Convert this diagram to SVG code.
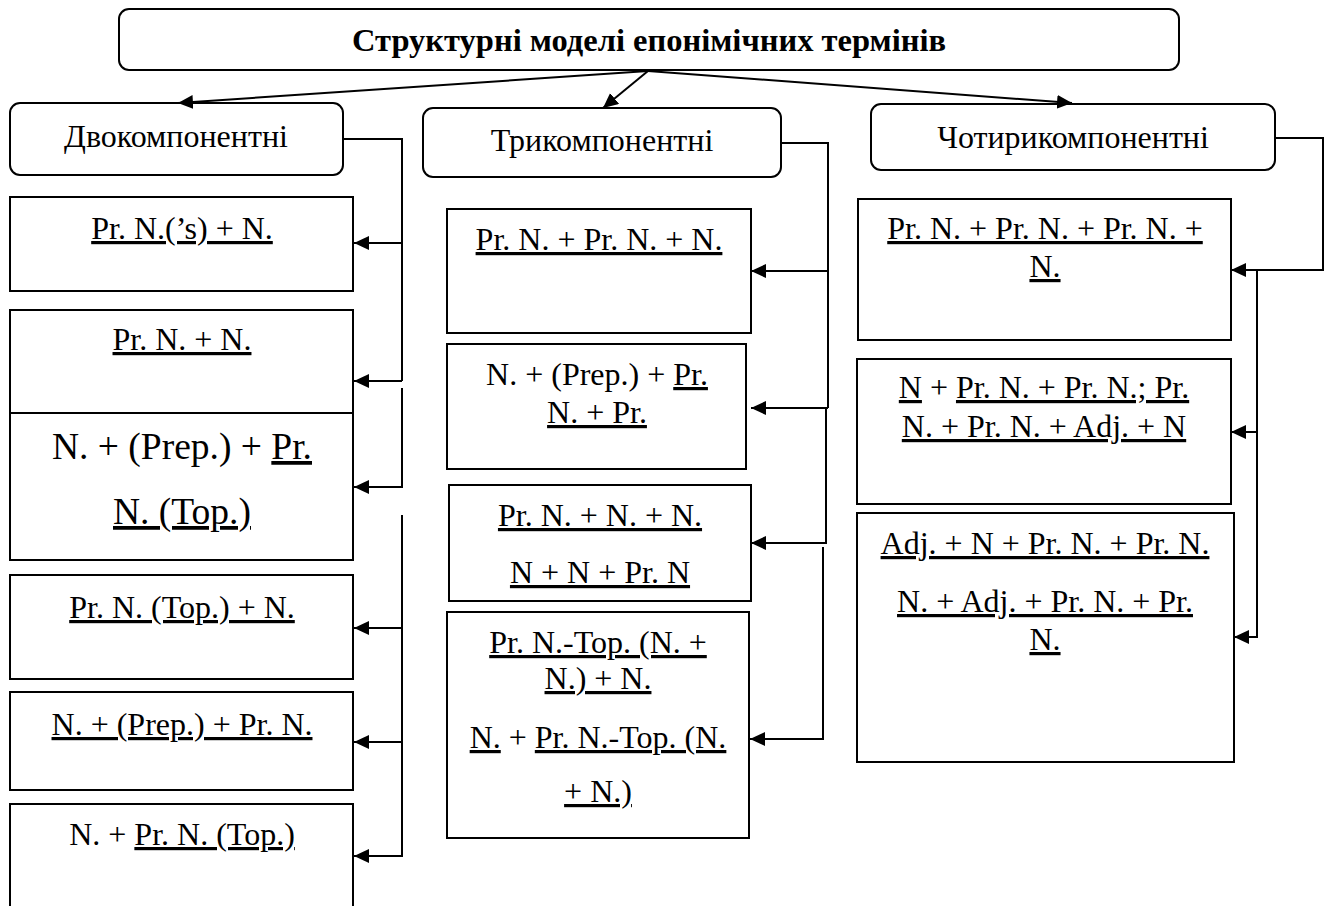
<svg xmlns="http://www.w3.org/2000/svg" width="1330" height="906" viewBox="0 0 1330 906">
  <style>
    .box { fill: #ffffff; stroke: #000000; stroke-width: 2; }
    .t { font-family: "Liberation Serif", "Times New Roman", serif; font-size: 32px; fill: #000000; text-anchor: middle; }
    .big { font-size: 37.5px; }
    .title { font-weight: bold; font-size: 32.5px; }
    .u { text-decoration: underline; text-decoration-skip-ink: none; text-decoration-thickness: 2px; }
    .wire { fill: none; stroke: #000000; stroke-width: 2; }
  </style>
  <defs>
    <marker id="arrow" markerUnits="userSpaceOnUse" markerWidth="16" markerHeight="16" refX="15" refY="7" orient="auto">
      <path d="M0,0 L15,7 L0,14 z" fill="#000000"/>
    </marker>
  </defs>
  <rect width="1330" height="906" fill="#ffffff"/>

  <!-- root -->
  <g id="root">
    <rect class="box" x="119" y="9" width="1060" height="61" rx="10"/>
    <text class="t title" x="649" y="51">Структурні моделі епонімічних термінів</text>
  </g>

  <!-- category headers -->
  <g id="cat-two">
    <rect class="box" x="10" y="103" width="333" height="72" rx="10"/>
    <text class="t" x="176" y="147">Двокомпонентні</text>
  </g>
  <g id="cat-three">
    <rect class="box" x="423" y="108" width="358" height="69" rx="10"/>
    <text class="t" x="602" y="151">Трикомпонентні</text>
  </g>
  <g id="cat-four">
    <rect class="box" x="871" y="104" width="404" height="66" rx="10"/>
    <text class="t" x="1073" y="148">Чотирикомпонентні</text>
  </g>

  <!-- two-component models -->
  <g id="two-1">
    <rect class="box" x="10" y="197" width="343" height="94"/>
    <text class="t" x="182" y="239"><tspan class="u">Pr. N.(’s) + N.</tspan></text>
  </g>
  <g id="two-2">
    <rect class="box" x="10" y="310" width="343" height="103"/>
    <text class="t" x="182" y="350"><tspan class="u">Pr. N. + N.</tspan></text>
  </g>
  <g id="two-3">
    <rect class="box" x="10" y="413" width="343" height="147"/>
    <text class="t big" x="182" y="459">N. + (Prep.) + <tspan class="u">Pr.</tspan></text>
    <text class="t big" x="182" y="524"><tspan class="u">N. (Top.)</tspan></text>
  </g>
  <g id="two-4">
    <rect class="box" x="10" y="575" width="343" height="104"/>
    <text class="t" x="182" y="618"><tspan class="u">Pr. N. (Top.) + N.</tspan></text>
  </g>
  <g id="two-5">
    <rect class="box" x="10" y="692" width="343" height="98"/>
    <text class="t" x="182" y="735"><tspan class="u">N. + (Prep.) + Pr. N.</tspan></text>
  </g>
  <g id="two-6">
    <rect class="box" x="10" y="804" width="343" height="110"/>
    <text class="t" x="182" y="845">N. + <tspan class="u">Pr. N. (Top.)</tspan></text>
  </g>

  <!-- three-component models -->
  <g id="three-1">
    <rect class="box" x="447" y="209" width="304" height="124"/>
    <text class="t" x="599" y="250"><tspan class="u">Pr. N. + Pr. N. + N.</tspan></text>
  </g>
  <g id="three-2">
    <rect class="box" x="447" y="344" width="299" height="125"/>
    <text class="t" x="597" y="385">N. + (Prep.) + <tspan class="u">Pr.</tspan></text>
    <text class="t" x="597" y="423"><tspan class="u">N. + Pr.</tspan></text>
  </g>
  <g id="three-3">
    <rect class="box" x="449" y="485" width="302" height="116"/>
    <text class="t" x="600" y="526"><tspan class="u">Pr. N. + N. + N.</tspan></text>
    <text class="t" x="600" y="583"><tspan class="u">N + N + Pr. N</tspan></text>
  </g>
  <g id="three-4">
    <rect class="box" x="447" y="612" width="302" height="226"/>
    <text class="t" x="598" y="653"><tspan class="u">Pr. N.-Top. (N. +</tspan></text>
    <text class="t" x="598" y="689"><tspan class="u">N.) + N.</tspan></text>
    <text class="t" x="598" y="748"><tspan class="u">N.</tspan> + <tspan class="u">Pr. N.-Top. (N.</tspan></text>
    <text class="t" x="598" y="802"><tspan class="u">+ N.)</tspan></text>
  </g>

  <!-- four-component models -->
  <g id="four-1">
    <rect class="box" x="858" y="199" width="373" height="141"/>
    <text class="t" x="1045" y="239"><tspan class="u">Pr. N. + Pr. N. + Pr. N. +</tspan></text>
    <text class="t" x="1045" y="277"><tspan class="u">N.</tspan></text>
  </g>
  <g id="four-2">
    <rect class="box" x="857" y="359" width="374" height="145"/>
    <text class="t" x="1044" y="398"><tspan class="u">N</tspan> + <tspan class="u">Pr. N. + Pr. N.; Pr.</tspan></text>
    <text class="t" x="1044" y="437"><tspan class="u">N. + Pr. N. + Adj. + N</tspan></text>
  </g>
  <g id="four-3">
    <rect class="box" x="857" y="513" width="377" height="249"/>
    <text class="t" x="1045" y="554"><tspan class="u">Adj. + N + Pr. N. + Pr. N.</tspan></text>
    <text class="t" x="1045" y="612"><tspan class="u">N. + Adj. + Pr. N. + Pr.</tspan></text>
    <text class="t" x="1045" y="650"><tspan class="u">N.</tspan></text>
  </g>

  <!-- connectors -->
  <g id="connectors">
    <!-- root to categories -->
    <path class="wire" d="M648,71 L178,103" marker-end="url(#arrow)"/>
    <path class="wire" d="M648,71 L603,108" marker-end="url(#arrow)"/>
    <path class="wire" d="M648,71 L1072,103" marker-end="url(#arrow)"/>

    <!-- two-component branch -->
    <path class="wire" d="M343,139 H402 V381"/>
    <path class="wire" d="M402,243 H354" marker-end="url(#arrow)"/>
    <path class="wire" d="M402,381 H354" marker-end="url(#arrow)"/>
    <path class="wire" d="M402,388 V487 H354" marker-end="url(#arrow)"/>
    <path class="wire" d="M402,515 V856 H354" marker-end="url(#arrow)"/>
    <path class="wire" d="M402,628 H354" marker-end="url(#arrow)"/>
    <path class="wire" d="M402,742 H354" marker-end="url(#arrow)"/>

    <!-- three-component branch -->
    <path class="wire" d="M781,143 H828 V408"/>
    <path class="wire" d="M828,271 H751" marker-end="url(#arrow)"/>
    <path class="wire" d="M828,408 H751" marker-end="url(#arrow)"/>
    <path class="wire" d="M826,408 V543 H751" marker-end="url(#arrow)"/>
    <path class="wire" d="M823,547 V739 H750" marker-end="url(#arrow)"/>

    <!-- four-component branch -->
    <path class="wire" d="M1275,138 H1323 V270 H1231" marker-end="url(#arrow)"/>
    <path class="wire" d="M1257,270 V637 H1234" marker-end="url(#arrow)"/>
    <path class="wire" d="M1257,432 H1231" marker-end="url(#arrow)"/>
  </g>
</svg>
